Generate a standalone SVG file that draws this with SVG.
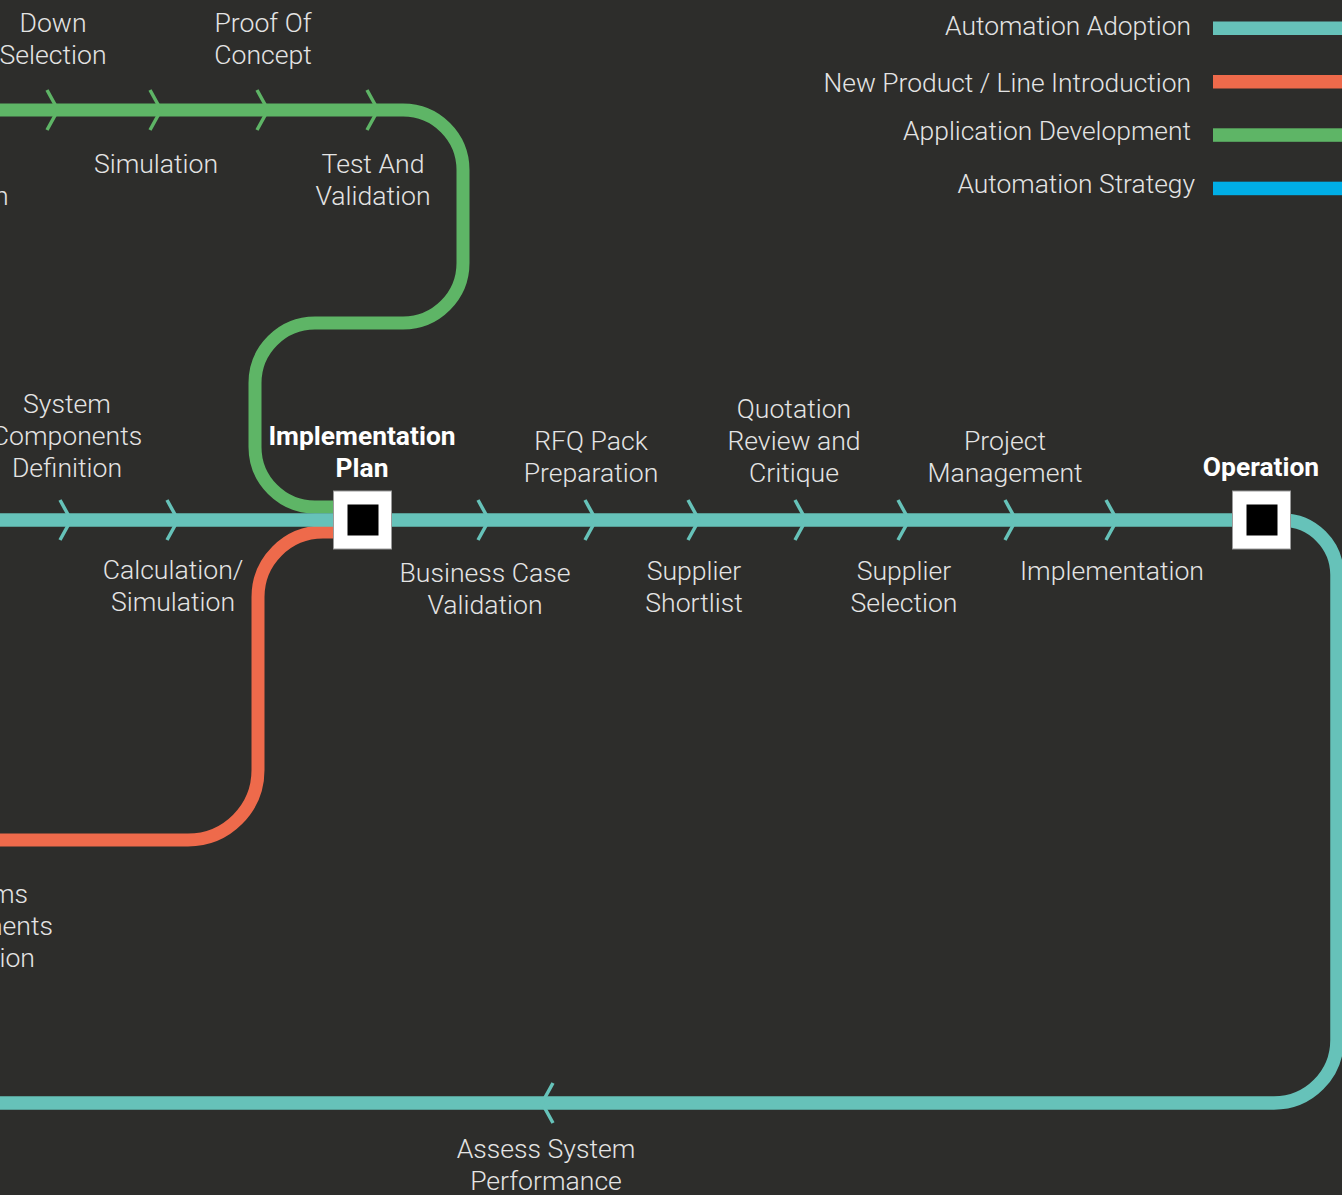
<svg xmlns="http://www.w3.org/2000/svg" width="1342" height="1195" viewBox="0 0 1342 1195">
  <style>
    .lbl { font-family: Roboto, "Liberation Sans", sans-serif; font-weight: 300; font-size: 26.6px; fill: #e4e4e4; text-anchor: middle; }
    .stn { font-family: Roboto, "Liberation Sans", sans-serif; font-weight: 700; font-size: 26.4px; fill: #ffffff; text-anchor: middle; }
    .leg { font-family: Roboto, "Liberation Sans", sans-serif; font-weight: 300; font-size: 26.4px; fill: #e4e4e4; text-anchor: end; }
    .line { fill: none; stroke-linecap: butt; stroke-linejoin: round; }
    .teal { stroke: #66c2b9; }
    .green { stroke: #5eb566; }
    .orange { stroke: #ee6a4b; }
    .chev { fill: none; stroke-width: 3.5; stroke-linecap: butt; stroke-linejoin: miter; }
    .box { fill: #ffffff; stroke: #9a9a9a; stroke-width: 1; }
    .core { fill: #000000; }
  </style>

  <rect width="1342" height="1195" fill="#2d2d2b"/>

  <!-- route lines -->
  <g id="connectors">
    <path class="line green" stroke-width="13" d="M 0 110 H 403 A 60 60 0 0 1 463 170 V 263 A 60 60 0 0 1 403 323 H 315 A 60 60 0 0 0 255 383 V 447 A 60 60 0 0 0 315 507 H 345"/>
    <path class="line orange" stroke-width="13" d="M 345 532 H 323 A 65 65 0 0 0 258 597 V 770 A 70 70 0 0 1 188 840 H 0"/>
    <path class="line teal" stroke-width="13.5" d="M 0 520 H 1282 A 55 55 0 0 1 1337 575 V 1040 A 63 63 0 0 1 1274 1103 H 0"/>

    <!-- direction chevrons, green -->
    <g class="chev green">
      <polyline points="47,90 58,110 47,130"/>
      <polyline points="150,90 161,110 150,130"/>
      <polyline points="257,90 268,110 257,130"/>
      <polyline points="367,90 378,110 367,130"/>
    </g>
    <!-- direction chevrons, teal -->
    <g class="chev teal">
      <polyline points="60,500 71,520 60,540"/>
      <polyline points="167,500 178,520 167,540"/>
      <polyline points="478,500 489,520 478,540"/>
      <polyline points="585,500 596,520 585,540"/>
      <polyline points="688,500 699,520 688,540"/>
      <polyline points="795,500 806,520 795,540"/>
      <polyline points="898,500 909,520 898,540"/>
      <polyline points="1005,500 1016,520 1005,540"/>
      <polyline points="1106,500 1117,520 1106,540"/>
      <polyline points="553,1083 542,1103 553,1123"/>
    </g>
  </g>

  <!-- stations -->
  <g id="station-implementation-plan">
    <rect class="box" x="333.5" y="491" width="58" height="58"/>
    <rect class="core" x="347.5" y="504.5" width="31" height="31"/>
    <text class="stn" x="362" y="445">Implementation</text>
    <text class="stn" x="362" y="477">Plan</text>
  </g>
  <g id="station-operation">
    <rect class="box" x="1232.5" y="491" width="58" height="58"/>
    <rect class="core" x="1246.5" y="504.5" width="31" height="31"/>
    <text class="stn" x="1261" y="476">Operation</text>
  </g>

  <!-- stops on the application development line -->
  <g id="stop-down-selection">
    <text class="lbl" x="53" y="32">Down</text>
    <text class="lbl" x="53" y="64">Selection</text>
  </g>
  <g id="stop-proof-of-concept">
    <text class="lbl" x="263" y="32">Proof Of</text>
    <text class="lbl" x="263" y="64">Concept</text>
  </g>
  <g id="stop-simulation">
    <text class="lbl" x="156" y="173">Simulation</text>
  </g>
  <g id="stop-test-validation">
    <text class="lbl" x="373" y="173">Test And</text>
    <text class="lbl" x="373" y="205">Validation</text>
  </g>
  <g id="stop-edge-top">
    <text class="lbl" x="8.5" y="205" style="text-anchor:end">n</text>
  </g>

  <!-- stops on the automation adoption line -->
  <g id="stop-system-components">
    <text class="lbl" x="67" y="413">System</text>
    <text class="lbl" x="67" y="445">Components</text>
    <text class="lbl" x="67" y="477">Definition</text>
  </g>
  <g id="stop-calculation">
    <text class="lbl" x="173" y="579">Calculation/</text>
    <text class="lbl" x="173" y="611">Simulation</text>
  </g>
  <g id="stop-business-case">
    <text class="lbl" x="485" y="582">Business Case</text>
    <text class="lbl" x="485" y="614">Validation</text>
  </g>
  <g id="stop-rfq">
    <text class="lbl" x="591" y="450">RFQ Pack</text>
    <text class="lbl" x="591" y="482">Preparation</text>
  </g>
  <g id="stop-supplier-shortlist">
    <text class="lbl" x="694" y="580">Supplier</text>
    <text class="lbl" x="694" y="612">Shortlist</text>
  </g>
  <g id="stop-quotation">
    <text class="lbl" x="794" y="418">Quotation</text>
    <text class="lbl" x="794" y="450">Review and</text>
    <text class="lbl" x="794" y="482">Critique</text>
  </g>
  <g id="stop-supplier-selection">
    <text class="lbl" x="904" y="580">Supplier</text>
    <text class="lbl" x="904" y="612">Selection</text>
  </g>
  <g id="stop-project-management">
    <text class="lbl" x="1005" y="450">Project</text>
    <text class="lbl" x="1005" y="482">Management</text>
  </g>
  <g id="stop-implementation">
    <text class="lbl" x="1112" y="580">Implementation</text>
  </g>
  <g id="stop-assess">
    <text class="lbl" x="546" y="1158">Assess System</text>
    <text class="lbl" x="546" y="1190">Performance</text>
  </g>

  <!-- stops on the new product line -->
  <g id="stop-edge-bottom">
    <text class="lbl" x="28" y="903" style="text-anchor:end">ms</text>
    <text class="lbl" x="53" y="935" style="text-anchor:end">nents</text>
    <text class="lbl" x="35" y="967" style="text-anchor:end">ion</text>
  </g>

  <!-- legend -->
  <g id="legend">
    <text class="leg" x="1191" y="35">Automation Adoption</text>
    <rect x="1213" y="21.5" width="129" height="13.5" fill="#66c2b9"/>
    <text class="leg" x="1191" y="92">New Product / Line Introduction</text>
    <rect x="1213" y="75" width="129" height="13.5" fill="#ee6a4b"/>
    <text class="leg" x="1191" y="140">Application Development</text>
    <rect x="1213" y="128.3" width="129" height="13.5" fill="#5eb566"/>
    <text class="leg" x="1195" y="193">Automation Strategy</text>
    <rect x="1213" y="181.7" width="129" height="13.5" fill="#00aee6"/>
  </g>
</svg>
